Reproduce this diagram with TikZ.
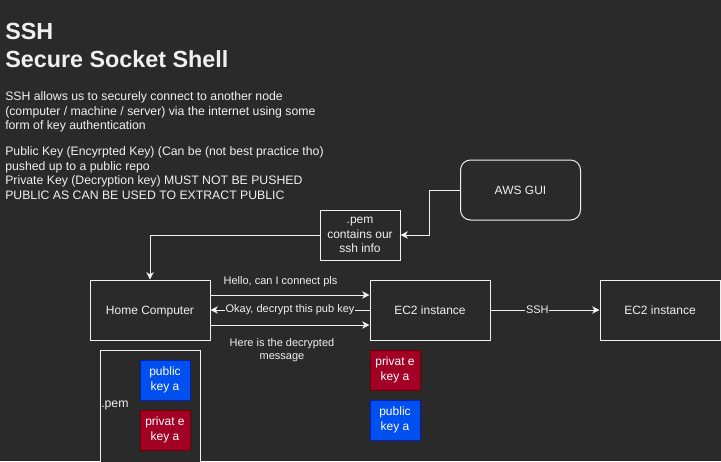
\documentclass[tikz,border=0pt]{standalone}
\usepackage{fontspec}
\setmainfont{Liberation Sans}
\usetikzlibrary{arrows.meta}
\definecolor{bg}{HTML}{2A2A2A}
\definecolor{fg}{HTML}{F0F0F0}
\definecolor{bluefill}{HTML}{0050EF}
\definecolor{blueline}{HTML}{001DBC}
\definecolor{redfill}{HTML}{A20025}
\definecolor{redline}{HTML}{6F0000}
\tikzset{
  txt/.style={font=\fontsize{9.2pt}{11pt}\selectfont, text=fg, inner sep=0pt, anchor=base west},
  ttl/.style={font=\fontsize{17.5pt}{21pt}\selectfont\bfseries, text=fg, inner sep=0pt, anchor=base west},
  box/.style={draw=fg, line width=0.75pt, fill=bg, text=fg, font=\fontsize{9pt}{10.8pt}\selectfont, align=center, inner sep=0pt},
  oneline/.style={text height=6.45pt, text depth=0pt},
  keyblue/.style={draw=blueline, line width=0.75pt, fill=bluefill, text=white, font=\fontsize{9pt}{11.2pt}\selectfont, align=center, inner sep=0pt, minimum width=37.5pt, minimum height=30pt},
  keyred/.style={draw=redline, line width=0.75pt, fill=redfill, text=white, font=\fontsize{9pt}{11.2pt}\selectfont, align=center, inner sep=0pt, minimum width=37.5pt, minimum height=30pt},
  arr/.style={draw=fg, line width=0.75pt, -{Stealth[length=5.5pt,width=5.5pt,inset=1.6pt]}},
  elabel/.style={font=\fontsize{8.25pt}{9.8pt}\selectfont, text=fg, align=center, inner sep=0.5pt},
}
\begin{document}
\begin{tikzpicture}[x=0.75pt,y=-0.75pt]
\useasboundingbox (0,0) rectangle (721,461);
\fill[bg] (0,0) rectangle (721,461);

% titles and text
\node[ttl] (t1) at (5,39) {SSH};
\node[ttl] (t2) at (5,67) {Secure Socket Shell};
\node[txt] (p1) at (5,100.5) {SSH allows us to securely connect to another node};
\node[txt] (p2) at (5,115) {(computer / machine / server) via the internet using some};
\node[txt] (p3) at (5,129.5) {form of key authentication};
\node[txt] (p4) at (5,155.5) {Public Key (Encyrpted Key) (Can be (not best practice tho)};
\node[txt] (p5) at (5,170) {pushed up to a public repo};
\node[txt] (p6) at (5,184.5) {Private Key (Decryption key) MUST NOT BE PUSHED};
\node[txt] (p7) at (5,199) {PUBLIC AS CAN BE USED TO EXTRACT PUBLIC};

% main boxes
\node[box, oneline, rounded corners=7.5pt, minimum width=90pt, minimum height=45pt] (aws) at (520.5,190) {AWS GUI};
\node[box, minimum width=60pt, minimum height=37.5pt] (pem) at (360,235) {.pem\\contains our\\ssh info};
\node[box, oneline, minimum width=90pt, minimum height=45pt] (home) at (150,310) {Home Computer};
\node[box, oneline, minimum width=90pt, minimum height=45pt] (ec2a) at (430,310) {EC2 instance};
\node[box, oneline, minimum width=90pt, minimum height=45pt] (ec2b) at (660,310) {EC2 instance};

% lower pem container
\draw[fg, line width=0.75pt, fill=bg] (100,350) rectangle (200,462);
\node[txt, anchor=west] (pemlbl) at (101,405) {.pem};
\node[keyblue] (pub1) at (165,380) {public\\key a};
\node[keyred] (priv1) at (165,430) {privat e\\key a};
\node[keyred] (priv2) at (395,370) {privat e\\key a};
\node[keyblue] (pub2) at (395,420) {public\\key a};

% connectors
\draw[arr] (aws.west) -- ++(-31,0) |- (pem.east);
\draw[arr] (pem.west) -| (home.north);
\draw[arr] ([yshift=11.25pt]home.east) -- ([yshift=11.25pt]ec2a.west);
\node[elabel] (lhello) at (280.5,282) {Hello, can I connect pls};
\draw[arr] (ec2a.west) -- (home.east) node[elabel, fill=bg, midway] (lokay) {Okay, decrypt this pub key};
\draw[arr] ([yshift=-11.25pt]home.east) -- ([yshift=-11.25pt]ec2a.west);
\node[elabel] (lhere) at (282,350.5) {Here is the decrypted\\message};
\draw[arr] (ec2a.east) -- (ec2b.west) node[elabel, fill=bg, pos=0.43] (lssh) {SSH};
\end{tikzpicture}
\end{document}
